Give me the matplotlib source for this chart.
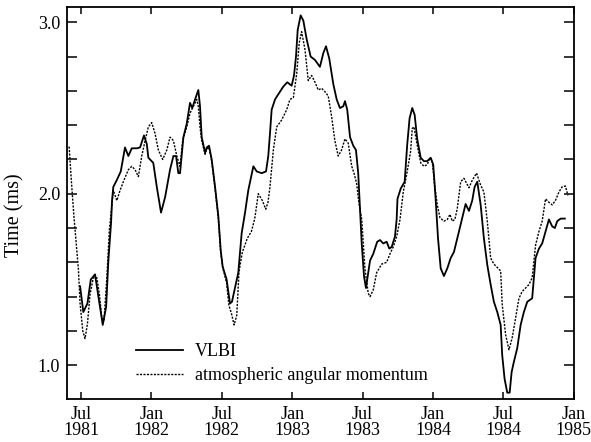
import matplotlib
matplotlib.use("Agg")
import matplotlib.pyplot as plt
from matplotlib.ticker import FixedLocator, NullFormatter

# ---- data (decimal years, ms) ----
vlbi_t = [1981.493, 1981.516, 1981.545, 1981.569, 1981.599, 1981.623, 1981.654, 1981.678, 1981.694, 1981.713,
          1981.720, 1981.729, 1981.754, 1981.782, 1981.812, 1981.836, 1981.860, 1981.896, 1981.919, 1981.947,
          1981.967, 1981.978, 1982.013, 1982.038, 1982.068, 1982.097, 1982.132, 1982.156, 1982.175, 1982.191,
          1982.203, 1982.227, 1982.251, 1982.274, 1982.290, 1982.310, 1982.333, 1982.345, 1982.357, 1982.381,
          1982.393, 1982.409, 1982.428, 1982.452, 1982.475, 1982.492, 1982.506, 1982.534, 1982.558, 1982.572,
          1982.617, 1982.641, 1982.665, 1982.688, 1982.724, 1982.748, 1982.783, 1982.814, 1982.830, 1982.842,
          1982.854, 1982.878, 1982.901, 1982.937, 1982.965, 1982.996, 1983.013, 1983.027, 1983.039, 1983.060,
          1983.079, 1983.103, 1983.131, 1983.162, 1983.197, 1983.221, 1983.240, 1983.263, 1983.292, 1983.316,
          1983.339, 1983.363, 1983.375, 1983.391, 1983.411, 1983.434, 1983.453, 1983.469, 1983.481, 1983.494,
          1983.510, 1983.524, 1983.553, 1983.576, 1983.604, 1983.624, 1983.647, 1983.671, 1983.690, 1983.707,
          1983.730, 1983.742, 1983.748, 1983.771, 1983.799, 1983.817, 1983.834, 1983.853, 1983.870, 1983.888,
          1983.913, 1983.936, 1983.959, 1983.984, 1984.002, 1984.019, 1984.036, 1984.055, 1984.078, 1984.102,
          1984.126, 1984.149, 1984.173, 1984.208, 1984.232, 1984.256, 1984.279, 1984.296, 1984.315, 1984.339,
          1984.362, 1984.386, 1984.410, 1984.433, 1984.457, 1984.481, 1984.492, 1984.509, 1984.528, 1984.545,
          1984.559, 1984.575, 1984.599, 1984.623, 1984.646, 1984.670, 1984.705, 1984.729, 1984.753, 1984.776,
          1984.800, 1984.824, 1984.847, 1984.866, 1984.883, 1984.907, 1984.937]
vlbi_v = [1.46, 1.31, 1.36, 1.50, 1.53, 1.40, 1.235, 1.34, 1.61, 1.83,
          1.96, 2.04, 2.08, 2.13, 2.27, 2.22, 2.265, 2.265, 2.27, 2.34,
          2.29, 2.21, 2.18, 2.04, 1.89, 1.98, 2.14, 2.22, 2.22, 2.12,
          2.12, 2.33, 2.41, 2.53, 2.50, 2.55, 2.605, 2.51, 2.33, 2.24,
          2.27, 2.28, 2.20, 2.04, 1.87, 1.67, 1.575, 1.50, 1.36, 1.37,
          1.54, 1.77, 1.89, 2.02, 2.16, 2.13, 2.12, 2.13, 2.22, 2.35,
          2.49, 2.55, 2.58, 2.625, 2.65, 2.63, 2.69, 2.80, 2.955, 3.04,
          3.01, 2.90, 2.80, 2.78, 2.74, 2.82, 2.86, 2.79, 2.64, 2.55,
          2.50, 2.51, 2.54, 2.49, 2.33, 2.28, 2.255, 2.12, 1.92, 1.71,
          1.52, 1.45, 1.61, 1.65, 1.72, 1.73, 1.71, 1.72, 1.68, 1.69,
          1.75, 1.85, 1.97, 2.03, 2.07, 2.285, 2.44, 2.50, 2.46, 2.32,
          2.21, 2.19, 2.19, 2.21, 2.17, 1.97, 1.74, 1.565, 1.52, 1.565,
          1.625, 1.66, 1.74, 1.86, 1.94, 1.90, 1.96, 2.04, 2.07, 1.935,
          1.74, 1.585, 1.47, 1.37, 1.31, 1.235, 1.06, 0.92, 0.84, 0.84,
          0.96, 1.02, 1.10, 1.235, 1.31, 1.37, 1.39, 1.625, 1.68, 1.71,
          1.78, 1.85, 1.81, 1.80, 1.84, 1.855, 1.855]

aam_t = [1981.415, 1981.434, 1981.450, 1981.481, 1981.493, 1981.512, 1981.528, 1981.545, 1981.564, 1981.587,
         1981.612, 1981.630, 1981.647, 1981.663, 1981.683, 1981.701, 1981.718, 1981.729, 1981.754, 1981.777,
         1981.805, 1981.836, 1981.860, 1981.884, 1981.907, 1981.931, 1981.955, 1981.978, 1982.002, 1982.026,
         1982.049, 1982.080, 1982.109, 1982.132, 1982.156, 1982.180, 1982.203, 1982.222, 1982.251, 1982.274,
         1982.298, 1982.322, 1982.333, 1982.345, 1982.357, 1982.381, 1982.393, 1982.409, 1982.428, 1982.452,
         1982.475, 1982.492, 1982.506, 1982.534, 1982.550, 1982.569, 1982.587, 1982.606, 1982.622, 1982.646,
         1982.681, 1982.710, 1982.734, 1982.759, 1982.788, 1982.812, 1982.828, 1982.842, 1982.866, 1982.890,
         1982.925, 1982.961, 1982.984, 1983.008, 1983.032, 1983.050, 1983.067, 1983.091, 1983.114, 1983.138,
         1983.162, 1983.185, 1983.209, 1983.233, 1983.256, 1983.280, 1983.303, 1983.327, 1983.351, 1983.375,
         1983.398, 1983.423, 1983.439, 1983.458, 1983.474, 1983.494, 1983.517, 1983.540, 1983.553, 1983.576,
         1983.600, 1983.636, 1983.671, 1983.695, 1983.718, 1983.742, 1983.766, 1983.789, 1983.817, 1983.841,
         1983.853, 1983.865, 1983.888, 1983.913, 1983.936, 1983.959, 1983.979, 1983.995, 1984.012, 1984.031,
         1984.050, 1984.078, 1984.102, 1984.121, 1984.137, 1984.156, 1984.173, 1984.197, 1984.220, 1984.256,
         1984.280, 1984.310, 1984.339, 1984.362, 1984.386, 1984.410, 1984.433, 1984.457, 1984.481, 1984.492,
         1984.516, 1984.540, 1984.563, 1984.587, 1984.611, 1984.634, 1984.658, 1984.682, 1984.705, 1984.729,
         1984.753, 1984.776, 1984.800, 1984.824, 1984.847, 1984.870, 1984.895, 1984.918, 1984.941, 1984.959]
aam_v = [2.275, 2.04, 1.86, 1.56, 1.36, 1.20, 1.155, 1.24, 1.415, 1.51,
         1.51, 1.415, 1.28, 1.26, 1.51, 1.79, 1.925, 2.02, 1.96, 2.02,
         2.08, 2.14, 2.16, 2.14, 2.10, 2.22, 2.31, 2.39, 2.415, 2.35,
         2.255, 2.20, 2.255, 2.33, 2.31, 2.22, 2.16, 2.31, 2.39, 2.47,
         2.51, 2.55, 2.51, 2.39, 2.31, 2.23, 2.26, 2.27, 2.19, 2.03,
         1.86, 1.66, 1.57, 1.48, 1.35, 1.30, 1.235, 1.29, 1.545, 1.66,
         1.74, 1.78, 1.855, 2.00, 1.96, 1.91, 1.95, 2.04, 2.255, 2.39,
         2.43, 2.49, 2.55, 2.56, 2.70, 2.88, 2.945, 2.84, 2.66, 2.69,
         2.65, 2.605, 2.615, 2.595, 2.57, 2.45, 2.31, 2.22, 2.255, 2.32,
         2.295, 2.16, 2.12, 2.06, 1.945, 1.85, 1.56, 1.42, 1.40, 1.44,
         1.54, 1.59, 1.60, 1.65, 1.69, 1.75, 1.85, 2.01, 2.13, 2.245,
         2.38, 2.39, 2.285, 2.18, 2.16, 2.17, 2.21, 2.19, 2.05, 1.935,
         1.86, 1.84, 1.85, 1.88, 1.84, 1.85, 1.915, 2.07, 2.09, 2.035,
         2.08, 2.12, 2.05, 2.01, 1.84, 1.625, 1.59, 1.57, 1.55, 1.355,
         1.18, 1.09, 1.16, 1.275, 1.39, 1.43, 1.45, 1.47, 1.51, 1.70,
         1.78, 1.84, 1.97, 1.95, 1.935, 1.96, 2.01, 2.04, 2.045, 1.99]

x_tick_pos = [1981.5, 1982.0, 1982.5, 1983.0, 1983.5, 1984.0, 1984.5, 1985.0]
x_tick_labels = ["Jul\n1981", "Jan\n1982", "Jul\n1982", "Jan\n1983",
                 "Jul\n1983", "Jan\n1984", "Jul\n1984", "Jan\n1985"]
y_major = [1.0, 2.0, 3.0]
y_major_labels = ["1.0", "2.0", "3.0"]
y_minor = [1.2, 1.4, 1.6, 1.8, 2.2, 2.4, 2.6, 2.8]

series_labels = ["VLBI", "atmospheric angular momentum"]
y_label = "Time (ms)"

# ---- figure ----
plt.rcParams['font.family'] = ['Liberation Serif', 'DejaVu Serif']
plt.rcParams['font.size'] = 13

fig = plt.figure(figsize=(5.91, 4.42), dpi=100)
ax = fig.add_axes([67/591, 1-399/442, (573.7-67)/591, (399-7)/442])

ax.plot(vlbi_t, vlbi_v, color='black', lw=1.3, label=series_labels[0])
ax.plot(aam_t, aam_v, color='black', lw=1.0, linestyle=(0, (1.5, 1.0)), label=series_labels[1])

ax.set_xlim(1981.40, 1985.0)
ax.set_ylim(0.803, 3.089)

ax.set_xticks(x_tick_pos)
ax.set_xticklabels(x_tick_labels, linespacing=0.95)
ax.yaxis.set_major_locator(FixedLocator(y_major))
ax.set_yticklabels(y_major_labels)
ax.yaxis.set_minor_locator(FixedLocator(y_minor))
ax.yaxis.set_minor_formatter(NullFormatter())

ax.tick_params(axis='x', which='major', direction='in', length=5, width=1.1,
               top=True, bottom=True, pad=5, labelsize=13)
ax.tick_params(axis='y', which='both', direction='in', length=7, width=1.1,
               left=True, right=True, pad=5, labelsize=13)

for s in ax.spines.values():
    s.set_linewidth(1.3)

ax.set_ylabel(y_label, fontsize=14.5)
ax.yaxis.set_label_coords(-0.084, 0.47)

ax.legend(loc='upper left', bbox_to_anchor=((136-67)/506.7, (399-343)/392),
          frameon=False, borderpad=0, borderaxespad=0, handlelength=2.6,
          handletextpad=0.65, labelspacing=0.38, fontsize=13)

fig.savefig("out.png", dpi=100)
